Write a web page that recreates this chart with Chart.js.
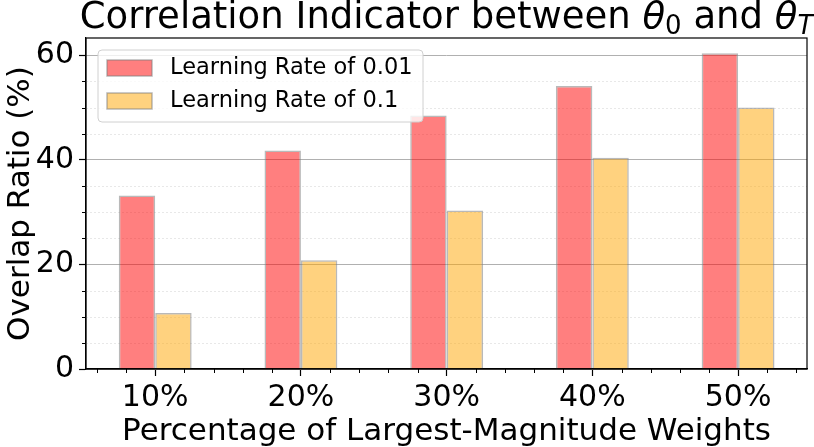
<!DOCTYPE html>
<html>
<head>
<meta charset="utf-8">
<script src="https://cdn.jsdelivr.net/npm/chart.js@4.4.1/dist/chart.umd.min.js"></script>
<style>
  body { margin: 0; background: #fff; }
</style>
</head>
<body>
<canvas id="myChart" width="814" height="447"></canvas>
<script>
// data
var categories = ['10%', '20%', '30%', '40%', '50%'];
var lr001_ratio = [33.2, 41.8, 48.5, 54.1, 60.4];
var lr01_ratio = [10.7, 20.8, 30.3, 40.4, 50.0];
var y_major_ticks = [0, 20, 40, 60];
var y_minor_step = 5;
var x_minor_step = 0.2;

var fontFamily = '"DejaVu Sans", Verdana, sans-serif';

function toPoints(values) {
  return values.map(function(v, i) { return {x: i, y: v}; });
}

var lr001_data = {
  label: 'Learning Rate of 0.01',
  data: toPoints(lr001_ratio),
  backgroundColor: 'rgba(255,0,0,0.5)',
  borderColor: 'rgba(128,128,128,0.55)',
  borderWidth: 1.5
};
var lr01_data = {
  label: 'Learning Rate of 0.1',
  data: toPoints(lr01_ratio),
  backgroundColor: 'rgba(255,165,0,0.5)',
  borderColor: 'rgba(128,128,128,0.55)',
  borderWidth: 1.5
};

// title with math subscripts
var titleParts = [
  {text: 'Correlation Indicator between ', italic: false, sub: false},
  {text: 'θ', italic: true, sub: false},
  {text: '0', italic: false, sub: true},
  {text: ' and ', italic: false, sub: false},
  {text: 'θ', italic: true, sub: false},
  {text: 'T', italic: true, sub: true}
];

function partFont(p) {
  var size = p.sub ? 26 : 37;
  return (p.italic ? 'italic ' : '') + size + 'px ' + fontFamily;
}

var titlePlugin = {
  id: 'mathTitle',
  afterDraw: function(chart) {
    var ctx = chart.ctx, a = chart.chartArea;
    ctx.save();
    ctx.fillStyle = '#000';
    ctx.textBaseline = 'alphabetic';
    var total = 0;
    titleParts.forEach(function(p) { ctx.font = partFont(p); total += ctx.measureText(p.text).width; });
    var x = (a.left + a.right) / 2 - total / 2;
    var base = 28;
    titleParts.forEach(function(p) {
      ctx.font = partFont(p);
      ctx.fillText(p.text, x, p.sub ? base + 6 : base);
      x += ctx.measureText(p.text).width;
    });
    ctx.restore();
  }
};

// minor grid lines + minor tick marks
var minorPlugin = {
  id: 'minorTicks',
  beforeDatasetsDraw: function(chart) {
    var ctx = chart.ctx, a = chart.chartArea;
    var ys = chart.scales.y, xs = chart.scales.x;
    ctx.save();
    for (var v = y_minor_step; v < ys.max; v += y_minor_step) {
      if (v % 20 === 0) continue;
      var py = Math.round(ys.getPixelForValue(v)) + 0.5;
      ctx.strokeStyle = '#e3e3e3';
      ctx.lineWidth = 0.8;
      ctx.setLineDash([2, 2]);
      ctx.beginPath(); ctx.moveTo(a.left, py); ctx.lineTo(a.right, py); ctx.stroke();
      ctx.setLineDash([]);
      ctx.strokeStyle = '#000';
      ctx.lineWidth = 1;
      ctx.beginPath(); ctx.moveTo(a.left - 4, py); ctx.lineTo(a.left, py); ctx.stroke();
    }
    for (var k = Math.ceil(xs.min / x_minor_step); k * x_minor_step <= xs.max; k++) {
      if (k % 5 === 0) continue;
      var px = Math.round(xs.getPixelForValue(k * x_minor_step)) + 0.5;
      ctx.strokeStyle = '#000';
      ctx.lineWidth = 1;
      ctx.beginPath(); ctx.moveTo(px, a.bottom); ctx.lineTo(px, a.bottom + 4); ctx.stroke();
    }
    ctx.restore();
  }
};

// box around the plot + legend in the upper left
var framePlugin = {
  id: 'frameLegend',
  afterDatasetsDraw: function(chart) {
    var ctx = chart.ctx, a = chart.chartArea;
    ctx.save();
    ctx.strokeStyle = '#000';
    ctx.lineWidth = 1.2;
    ctx.strokeRect(a.left, a.top, a.right - a.left, a.bottom - a.top);

    var x0 = a.left + 12, y0 = a.top + 12, w = 325, h = 72;
    ctx.beginPath();
    ctx.roundRect(x0, y0, w, h, 4);
    ctx.fillStyle = 'rgba(255,255,255,0.8)';
    ctx.fill();
    ctx.strokeStyle = '#d0d0d0';
    ctx.lineWidth = 1;
    ctx.stroke();

    chart.data.datasets.forEach(function(ds, i) {
      var sy = y0 + 10 + i * 33;
      ctx.fillStyle = '#fff';
      ctx.fillRect(x0 + 9, sy, 45, 16);
      ctx.fillStyle = ds.backgroundColor;
      ctx.fillRect(x0 + 9, sy, 45, 16);
      ctx.strokeStyle = ds.borderColor;
      ctx.lineWidth = 1.5;
      ctx.strokeRect(x0 + 9, sy, 45, 16);
      ctx.fillStyle = '#000';
      ctx.font = '22.5px ' + fontFamily;
      ctx.textBaseline = 'middle';
      ctx.fillText(ds.label, x0 + 72, sy + 8);
    });
    ctx.restore();
  }
};

var ctx = document.getElementById('myChart').getContext('2d');
var myChart = new Chart(ctx, {
  type: 'bar',
  data: {
    datasets: [lr001_data, lr01_data]
  },
  options: {
    responsive: false,
    animation: false,
    categoryPercentage: 0.5,
    barPercentage: 1.0,
    layout: { padding: { top: 38, right: 7, left: 0, bottom: 0 } },
    plugins: {
      legend: { display: false },
      tooltip: { enabled: false },
      title: { display: false }
    },
    scales: {
      x: {
        type: 'linear',
        offset: false,
        min: -0.475,
        max: 4.473,
        afterBuildTicks: function(scale) {
          scale.ticks = categories.map(function(c, i) { return {value: i}; });
        },
        afterFit: function(scale) { scale.height = 78; },
        ticks: {
          callback: function(value) { return categories[value]; },
          font: { family: fontFamily, size: 30 },
          color: '#000',
          padding: 4,
          maxRotation: 0,
          autoSkip: false
        },
        grid: { offset: false, drawOnChartArea: false, tickLength: 7, tickColor: '#000', tickWidth: 1.2 },
        border: { color: '#000', width: 1.2 },
        title: {
          display: true,
          text: 'Percentage of Largest-Magnitude Weights',
          font: { family: fontFamily, size: 31, lineHeight: 1.0 },
          color: '#000',
          padding: { top: 0, bottom: 0 }
        }
      },
      y: {
        min: 0,
        max: 63.3,
        afterBuildTicks: function(scale) {
          scale.ticks = y_major_ticks.map(function(v) { return {value: v}; });
        },
        afterFit: function(scale) { scale.width = 86; },
        ticks: {
          font: { family: fontFamily, size: 30 },
          color: '#000',
          padding: 5
        },
        grid: { color: '#b0b0b0', lineWidth: 1, tickLength: 7, tickColor: '#000', tickWidth: 1.2 },
        border: { color: '#000', width: 1.2 },
        title: {
          display: true,
          text: 'Overlap Ratio (%)',
          font: { family: fontFamily, size: 31 },
          color: '#000',
          padding: { top: 2, bottom: 0 }
        }
      }
    }
  },
  plugins: [minorPlugin, framePlugin, titlePlugin]
});
</script>
</body>
</html>
